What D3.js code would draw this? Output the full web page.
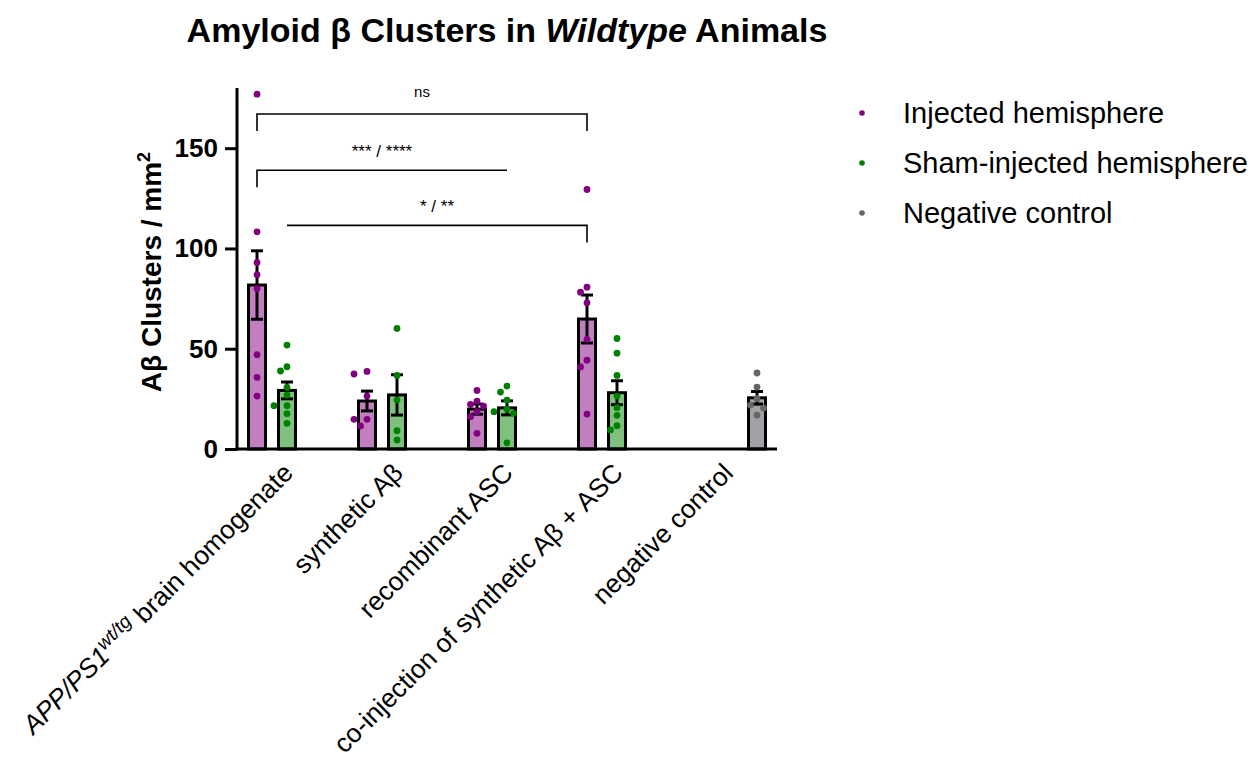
<!DOCTYPE html>
<html>
<head>
<meta charset="utf-8">
<script src="https://cdn.jsdelivr.net/npm/d3@7"></script>
<style>
  html, body { margin: 0; padding: 0; background: #fff; }
  svg { display: block; font-family: "Liberation Sans", Arial, sans-serif; }
</style>
</head>
<body>
<svg id="chart" width="1259" height="761"></svg>
<script>
// ---------- data ----------
const groups = ["APP/PS1 brain homogenate", "synthetic Aβ", "recombinant ASC",
                "co-injection of synthetic Aβ + ASC", "negative control"];
const seriesNames = ["Injected hemisphere", "Sham-injected hemisphere", "Negative control"];

const injected = [
  [176.9, 108.3, 93.0, 86.9, 79.9, 47.0, 35.7, 26.4],
  [38.7, 37.4, 26.4, 14.8, 14.8, 11.5],
  [29.2, 23.9, 22.2, 21.4, 18.6, 16.1, 7.8],
  [129.4, 80.7, 78.2, 72.9, 54.7, 44.3, 40.9, 17.4],
  []
];
const sham = [
  [51.8, 41.0, 38.9, 30.7, 26.9, 21.6, 21.6, 17.6, 12.8],
  [60.1, 36.7, 24.4, 9.1, 4.5],
  [31.4, 28.4, 24.4, 19.8, 18.6, 17.8, 3.1],
  [55.1, 47.8, 36.7, 26.4, 20.6, 16.8, 11.6, 9.5],
  []
];
const negControl = [
  [], [], [], [],
  [37.9, 30.9, 25.1, 21.9, 20.4, 16.9]
];
const yTicks = [0, 50, 100, 150];

// significance comparisons: [group, series] endpoints, bracket level (data units)
const sigLabels = ["ns", "*** / ****", "* / **"];
const sigFrom   = [[0, 0], [0, 0], [0, 1]];
const sigTo     = [[3, 0], [2, 1], [3, 0]];
const sigLevel  = [167, 139, 111.5];
const sigLegs   = [[true, true], [true, false], [false, true]];

// ---------- setup ----------
const svg = d3.select("#chart");
const seriesData = [injected, sham, negControl];
const dotColors = ["#800080", "#008000", "#666666"];
const barColors = ["#C17FC0", "#80C07F", "#A2A2A6"];

const x0 = d3.scaleBand().domain(groups).range([232, 782]).paddingInner(0).paddingOuter(0);
const x1 = d3.scaleBand().domain(seriesNames).range([10, 100]).paddingInner(1/3).paddingOuter(1/6);
const y = d3.scaleLinear().domain([0, 180]).range([449, 88]);

const cx = (g, s) => x0(groups[g]) + x1(seriesNames[s]) + x1.bandwidth() / 2;

// build bar records
const bars = [];
seriesData.forEach((arr, s) => {
  arr.forEach((vals, g) => {
    if (!vals.length) return;
    const mean = d3.mean(vals);
    const sem = d3.deviation(vals) / Math.sqrt(vals.length);
    bars.push({ g, s, vals, mean, sem });
  });
});

// bars
svg.append("g").selectAll("rect").data(bars).join("rect")
  .attr("x", d => cx(d.g, d.s) - x1.bandwidth() / 2 + 1.5)
  .attr("width", x1.bandwidth() - 3)
  .attr("y", d => y(d.mean))
  .attr("height", d => y(0) - y(d.mean))
  .attr("fill", d => barColors[d.s])
  .attr("stroke", "#000")
  .attr("stroke-width", 3);

// error bars
const capW = 12;
const eb = svg.append("g").attr("stroke", "#000").attr("stroke-width", 3).attr("fill", "none");
bars.forEach(d => {
  const c = cx(d.g, d.s);
  const t = y(d.mean + d.sem), b = y(d.mean - d.sem);
  eb.append("line").attr("x1", c).attr("x2", c).attr("y1", t).attr("y2", b);
  eb.append("line").attr("x1", c - capW / 2).attr("x2", c + capW / 2).attr("y1", t).attr("y2", t);
  eb.append("line").attr("x1", c - capW / 2).attr("x2", c + capW / 2).attr("y1", b).attr("y2", b);
});

// dots (simple beeswarm layout)
const r = 3.4, stepX = 6.5, minDist = 2 * r + 0.4;
const dots = [];
bars.forEach(d => {
  const c = cx(d.g, d.s);
  const placed = [];
  const sorted = d.vals.slice().sort((a, b) => b - a);
  sorted.forEach(v => {
    const py = y(v);
    const offs = [0, -stepX, stepX, -2 * stepX, 2 * stepX];
    let chosen = offs[offs.length - 1];
    for (const o of offs) {
      if (placed.every(p => Math.hypot(p.x - (c + o), p.y - py) >= minDist)) { chosen = o; break; }
    }
    const p = { x: c + chosen, y: py, s: d.s };
    placed.push(p); dots.push(p);
  });
});
svg.append("g").selectAll("circle").data(dots).join("circle")
  .attr("cx", d => d.x).attr("cy", d => d.y).attr("r", r)
  .attr("fill", d => dotColors[d.s]);

// axes
const axisG = svg.append("g");
axisG.append("line").attr("x1", 237).attr("x2", 237).attr("y1", y(0) + 1.5).attr("y2", y(180))
  .attr("stroke", "#000").attr("stroke-width", 3);
axisG.append("line").attr("x1", 235.5).attr("x2", x0.range()[1] - 5).attr("y1", y(0)).attr("y2", y(0))
  .attr("stroke", "#000").attr("stroke-width", 3);

const yAxis = d3.axisLeft(y).tickValues(yTicks).tickSize(12).tickPadding(7).tickFormat(d3.format("d"));
const yg = svg.append("g").attr("transform", "translate(237,0)").call(yAxis);
yg.select(".domain").remove();
yg.selectAll(".tick line").attr("stroke", "#000").attr("stroke-width", 3);
yg.selectAll(".tick text").attr("font-size", 26).attr("font-weight", "bold")
  .attr("font-family", "Liberation Sans, Arial, sans-serif").attr("fill", "#000");

// y label
const yl = svg.append("text").attr("transform", "translate(161,272) rotate(-90)")
  .attr("text-anchor", "middle").attr("font-size", 28).attr("font-weight", "bold");
yl.append("tspan").text("Aβ Clusters / mm");
yl.append("tspan").attr("font-size", 18).attr("dy", -11).text("2");

// x labels
const xl = svg.append("g");
groups.forEach((gname, i) => {
  const t = xl.append("text")
    .attr("transform", `translate(${x0(gname) + x0.bandwidth() / 2 + 1},468) rotate(-45)`)
    .attr("text-anchor", "end").attr("dy", "0.35em").attr("font-size", 26.3);
  if (i === 0) {
    t.append("tspan").attr("font-style", "italic").text("APP/PS1");
    t.append("tspan").attr("font-style", "italic").attr("font-size", 19).attr("dy", -10).text("wt/tg");
    t.append("tspan").attr("dy", 10).text(" brain homogenate");
  } else {
    t.text(gname);
  }
});

// significance brackets
const sg = svg.append("g");
sigLabels.forEach((lab, i) => {
  const xa = cx(sigFrom[i][0], sigFrom[i][1]);
  const xb = cx(sigTo[i][0], sigTo[i][1]);
  const yy = y(sigLevel[i]);
  const leg = 17;
  let p = "";
  p += sigLegs[i][0] ? `M${xa},${yy + leg}V${yy}` : `M${xa},${yy}`;
  p += `H${xb}`;
  if (sigLegs[i][1]) p += `V${yy + leg}`;
  sg.append("path").attr("d", p).attr("fill", "none").attr("stroke", "#000").attr("stroke-width", 1.6);
  sg.append("text").attr("x", (xa + xb) / 2).attr("y", yy - (i === 0 ? 17 : 13))
    .attr("text-anchor", "middle").attr("font-size", i === 0 ? 15 : 17).text(lab);
});

// legend
const lg = svg.append("g");
seriesNames.forEach((n, i) => {
  const ly = 113 + i * 50;
  lg.append("circle").attr("cx", 862).attr("cy", ly).attr("r", 2.8).attr("fill", dotColors[i]);
  lg.append("text").attr("x", 903).attr("y", ly).attr("dy", "0.35em").attr("font-size", 29).text(n);
});

// title
const title = svg.append("text").attr("x", 507).attr("y", 42).attr("text-anchor", "middle")
  .attr("font-size", 34).attr("font-weight", "bold");
title.append("tspan").text("Amyloid β Clusters in ");
title.append("tspan").attr("font-style", "italic").text("Wildtype");
title.append("tspan").text(" Animals");
</script>
</body>
</html>
